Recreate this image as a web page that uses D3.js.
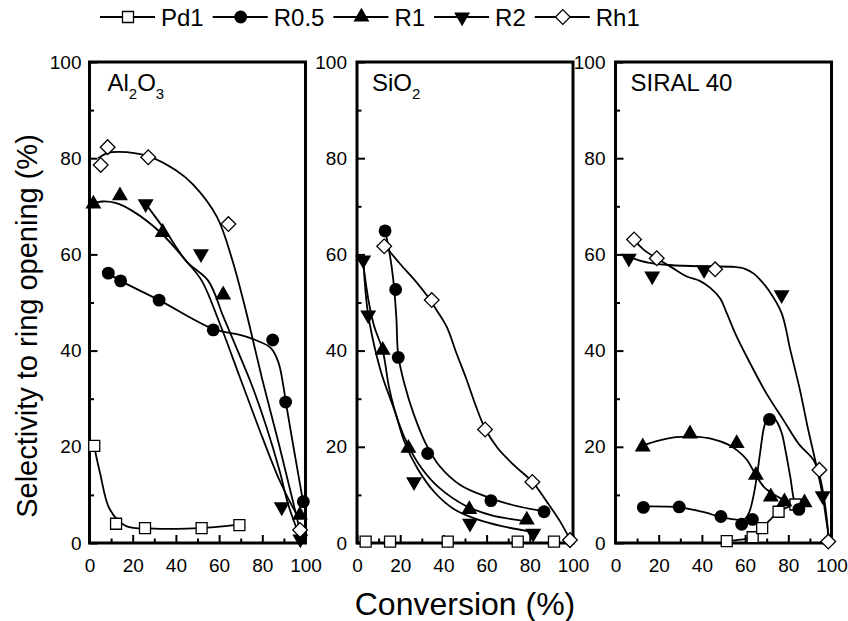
<!DOCTYPE html>
<html><head><meta charset="utf-8">
<script src="https://cdn.jsdelivr.net/npm/d3@7"></script>
<style>body{margin:0;background:#fff}svg{display:block;font-family:Arial,"Liberation Sans",sans-serif}</style>
</head><body><svg id="c" width="848" height="621"></svg>
<script>
const seriesNames=["Pd1","R0.5","R1","R2","Rh1"];
const xTicks=[0,20,40,60,80,100];
const xMinor=[10,30,50,70,90];
const yTicks=[0,20,40,60,80,100];
const yMinor=[10,30,50,70,90];

// Al2O3 panel
const alPd1=[[2.2,20.2],[12.3,4.0],[25.7,3.1],[51.9,3.1],[69.4,3.7]];
const alPd1Fit=[[2.2,20],[4.9,14.5],[9.5,6.9],[17,3.5],[30,3.0],[45,3.0],[58,3.3],[69.4,3.8]];
const alR05=[[8.7,56.1],[14.4,54.5],[32.2,50.5],[57.3,44.3],[84.8,42.2],[90.8,29.3],[99,8.6]];
const alR05Fit=[[8.7,56],[14.4,54.5],[32.2,50.5],[57.3,44.5],[70,43.2],[78,42],[84,40.5],[87.5,37.5],[89.8,32.5],[91,29],[95,18.5],[99,8.3]];
const alR1=[[1.8,70.5],[14.1,72.2],[33.9,64.6],[61.9,51.6],[97.4,5.8]];
const alR1Fit=[[0,70.5],[6,71],[12,70.7],[20,69],[33,64.5],[45,58.5],[52,54.5],[60,46],[70,34],[80,22],[88,13],[94,7.5],[97.4,5]];
const alR2=[[26,70.5],[51.6,60.1],[89,7.5],[97.6,0.8]];
const alR2Fit=[[26,70.5],[35,65],[45,58.5],[55,54.5],[62,47],[70,38.5],[75,33],[82,24],[88,15],[92,8],[97.6,1]];
const alRh1=[[5.2,78.6],[8.4,82.3],[27.2,80.2],[64.3,66.3],[97.5,2.7]];
const alRh1Fit=[[4,80],[8,81],[13.5,81.3],[27.2,80.4],[40,77.5],[48,74.5],[59,67.8],[66,59],[72,49],[80,34],[88,20],[94,9],[98,1.5]];

// SiO2 panel
const siPd1=[[4,0.3],[15.3,0.3],[42,0.3],[74.4,0.3],[91.2,0.3]];
const siR05=[[13,64.9],[17.9,52.7],[19.1,38.6],[32.7,18.6],[62,8.8],[86.6,6.5]];
const siR05Fit=[[13,65],[15,60.5],[16.8,54.7],[18.2,47],[19.1,39],[22,33],[26.1,27],[32,20.5],[38.4,15.9],[48,12],[60,9.6],[72,7.9],[86.6,6.6]];
const siR1=[[11.9,40.1],[23.8,19.7],[52,7],[78.6,4.8]];
const siR1Fit=[[2.9,58],[5.5,50],[8,45],[11.9,40],[15,32],[19.3,25],[24,20],[30,15.5],[38,11.5],[50,7.8],[62,5.8],[78.6,4.5]];
const siR2=[[2.9,58.8],[5.2,47.4],[26.4,12.7],[52.3,4.1],[81.6,2]];
const siR2Fit=[[2.9,59],[4,52],[5.2,47.4],[8,41],[11.5,35],[17.8,27],[22,21],[28,15.5],[36,10.5],[45,7],[55,5],[67,3.5],[81.6,2.3]];
const siRh1=[[12.6,61.7],[34.6,50.5],[59.3,23.6],[81.2,12.7],[98.6,0.6]];
const siRh1Fit=[[12.6,62],[20,58],[27,54.5],[32.3,51.5],[36,49],[41.5,45],[46,39.5],[50.8,33.9],[55,28.5],[59.3,23.8],[65,19.8],[72.4,16.3],[81.2,12.7],[88,8.5],[94,4.5],[99.5,0]];

// SIRAL 40 panel
const sirPd1=[[51.5,0.4],[63.5,1.2],[67.9,3.1],[75.5,6.5],[83.3,8]];
const sirPd1Fit=[[51.5,0.4],[58,0.7],[63.5,1.2],[66,2],[67.9,3.1],[72,5],[75.5,6.5],[80,7.5],[83.3,8]];
const sirR05=[[12.9,7.4],[29.5,7.5],[48.8,5.5],[58.4,3.9],[63.4,4.9],[71.3,25.7],[84.9,7]];
const sirR05Fit=[[12.9,7.6],[29.5,7.4],[40,6.5],[48.8,5.4],[55,4.9],[59.9,5.0],[62,6.5],[63.8,9.6],[65.5,14],[66.9,18.6],[69.3,24.9],[71.3,26.2],[73.2,26.1],[75,25],[77,22.8],[79,18.5],[80.9,13.8],[83.3,7.8],[84.9,7]];
const sirR1=[[12.6,20],[34.5,22.7],[56.1,20.7],[65,14.1],[71.9,9.6],[78.2,8.6],[87.5,8.4]];
const sirR1Fit=[[12.6,20.3],[20,21.3],[28,22],[36,22.1],[45,21.6],[52,20.5],[56.5,19.2],[60.8,17.3],[65,14.1],[69,11.5],[73,10.2],[78,9],[84,8.4],[87.5,8.3]];
const sirR2=[[6.2,59.2],[17,55.5],[41,56.8],[76.9,51.6],[95.9,9.8]];
const sirR2Fit=[[6.2,59.5],[15,58.3],[25,57.8],[40,57.5],[55,57.4],[60,57],[64,56],[67,54.7],[71,52.5],[76.9,47.8],[81,40],[85.4,31.8],[89,24],[93.1,15.9],[95.9,9.8],[97.5,5],[99,0.5]];
const sirRh1=[[8.6,63.1],[19.1,59.2],[46.1,56.9],[94.4,15.2],[98.5,0.3]];
const sirRh1Fit=[[8.6,63],[13,61],[19.1,59.2],[26,57.3],[33,55.4],[39,54.5],[44,53],[48.4,50.9],[51.5,47.8],[56,43],[62.3,37.4],[70,31],[77.7,25.6],[85,20.5],[91.6,17.3],[94.5,14],[97,8],[98.7,1]];

const panels=[
  {name:"Al2O3", x0:89.5, pts:[alPd1,alR05,alR1,alR2,alRh1], fits:[alPd1Fit,alR05Fit,alR1Fit,alR2Fit,alRh1Fit], ylx:-8},
  {name:"SiO2", x0:357, pts:[siPd1,siR05,siR1,siR2,siRh1], fits:[null,siR05Fit,siR1Fit,siR2Fit,siRh1Fit], ylx:-10},
  {name:"SIRAL 40", x0:615.5, pts:[sirPd1,sirR05,sirR1,sirR2,sirRh1], fits:[sirPd1Fit,sirR05Fit,sirR1Fit,sirR2Fit,sirRh1Fit], ylx:-10}
];

const svg=d3.select("#c");
const PW=216, yTop=62, yBot=543;
const y=d3.scaleLinear().domain([0,100]).range([yBot,yTop]);

function marker(g,i,cx,cy){
  if(i===0){
    g.append("path").attr("d",d3.symbol().type(d3.symbolSquare).size(121)()).attr("transform",`translate(${cx},${cy})`)
     .attr("fill","#fff").attr("stroke","#000").attr("stroke-width",1.3);
  } else if(i===1){
    g.append("path").attr("d",d3.symbol().type(d3.symbolCircle).size(130)()).attr("transform",`translate(${cx},${cy})`).attr("fill","#000");
  } else if(i===2){
    g.append("path").attr("d",d3.symbol().type(d3.symbolTriangle).size(110)()).attr("transform",`translate(${cx},${cy})`).attr("fill","#000");
  } else if(i===3){
    g.append("path").attr("d",d3.symbol().type(d3.symbolTriangle).size(110)()).attr("transform",`translate(${cx},${cy}) rotate(180)`).attr("fill","#000");
  } else {
    g.append("path").attr("d",d3.symbol().type(d3.symbolSquare).size(108)()).attr("transform",`translate(${cx},${cy}) rotate(45)`)
     .attr("fill","#fff").attr("stroke","#000").attr("stroke-width",1.3);
  }
}

const line=d3.line().curve(d3.curveCatmullRom.alpha(0.5));

panels.forEach((p,pi)=>{
  const x=d3.scaleLinear().domain([0,100]).range([p.x0,p.x0+PW]);
  const g=svg.append("g");
  const cid="clip"+pi;
  svg.append("clipPath").attr("id",cid).append("rect").attr("x",p.x0).attr("y",yTop).attr("width",PW).attr("height",yBot-yTop);
  const lg=g.append("g").attr("clip-path",`url(#${cid})`);
  p.fits.forEach(f=>{
    if(!f) return;
    lg.append("path").attr("d",line(f.map(d=>[x(d[0]),y(d[1])]))).attr("fill","none").attr("stroke","#000").attr("stroke-width",1.8);
  });
  const ax=g.append("g").attr("transform",`translate(0,${yBot})`)
    .call(d3.axisBottom(x).tickValues(xTicks).tickSize(-8).tickPadding(16).tickFormat(d3.format("d")));
  const axm=g.append("g").attr("transform",`translate(0,${yBot})`)
    .call(d3.axisBottom(x).tickValues(xMinor).tickSize(-4.5).tickFormat(""));
  const ay=g.append("g").attr("transform",`translate(${p.x0},0)`)
    .call(d3.axisLeft(y).tickValues(yTicks).tickSize(-8).tickPadding(-p.ylx).tickFormat(d3.format("d")));
  const aym=g.append("g").attr("transform",`translate(${p.x0},0)`)
    .call(d3.axisLeft(y).tickValues(yMinor).tickSize(-4.5).tickFormat(""));
  [ax,axm,ay,aym].forEach(a=>{
    a.select(".domain").remove();
    a.selectAll("line").attr("stroke","#000").attr("stroke-width",2);
    a.selectAll("text").attr("font-size",19).attr("fill","#000").attr("font-family","Arial, 'Liberation Sans', sans-serif");
  });
  g.append("rect").attr("x",p.x0).attr("y",yTop).attr("width",PW).attr("height",yBot-yTop)
    .attr("fill","none").attr("stroke","#000").attr("stroke-width",3);
  const mg=g.append("g");
  p.pts.forEach((arr,i)=>arr.forEach(d=>marker(mg,i,x(d[0]),y(d[1]))));
  const t=g.append("text").attr("x",p.x0+(pi===0?18:15)).attr("y",91).attr("font-size",24).attr("fill","#000");
  if(p.name==="Al2O3"){
    t.append("tspan").text("Al");
    t.append("tspan").text("2").attr("font-size",15).attr("dy",8);
    t.append("tspan").text("O").attr("dy",-8);
    t.append("tspan").text("3").attr("font-size",15).attr("dy",8);
  } else if(p.name==="SiO2"){
    t.append("tspan").text("SiO");
    t.append("tspan").text("2").attr("font-size",15).attr("dy",8);
  } else {
    t.text(p.name);
  }
});

// legend
const leg=svg.append("g");
let lx=100; const ly=17;
seriesNames.forEach((s,i)=>{
  leg.append("line").attr("x1",lx).attr("x2",lx+55).attr("y1",ly).attr("y2",ly).attr("stroke","#000").attr("stroke-width",1.8);
  marker(leg,i,lx+28,ly);
  const tx=leg.append("text").attr("x",lx+61).attr("y",ly+8.5).attr("font-size",24).attr("fill","#000").text(s);
  lx=lx+61+tx.node().getComputedTextLength()+9;
});

// axis titles
svg.append("text").attr("x",465).attr("y",615).attr("text-anchor","middle").attr("font-size",32).attr("fill","#000").text("Conversion (%)");
svg.append("text").attr("transform","translate(37,326) rotate(-90)").attr("text-anchor","middle").attr("font-size",29).attr("fill","#000").text("Selectivity to ring opening (%)");
</script></body></html>
